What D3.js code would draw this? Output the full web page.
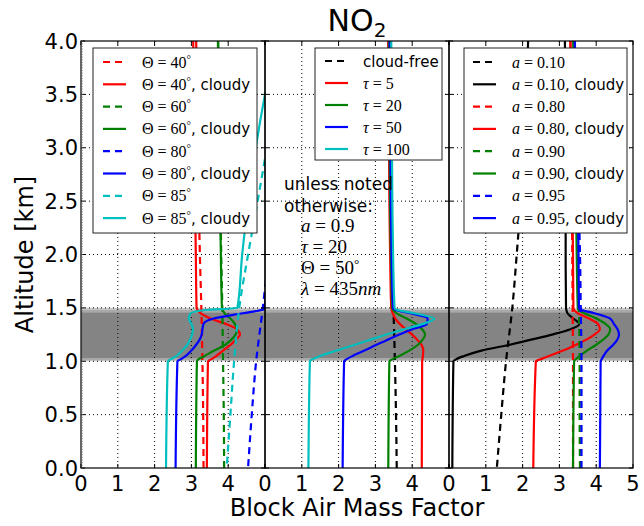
<!DOCTYPE html>
<html>
<head>
<meta charset="utf-8">
<script src="https://cdn.jsdelivr.net/npm/d3@7"></script>
<style>
  html, body { margin: 0; padding: 0; background: #fff; }
  svg { display: block; }
</style>
</head>
<body>
<svg id="chart" width="644" height="526"></svg>
<script>
// ---- data -------------------------------------------------------------
// altitude grids [km]
const cloudAlt = [0, 1.0, 1.02, 1.05, 1.1, 1.15, 1.2, 1.25, 1.3, 1.35, 1.4, 1.45, 1.48, 1.5, 2.0, 2.5, 3.0, 3.5, 4.0];
const clearAlt = [0, 0.5, 1.0, 1.5, 2.0, 2.5, 3.0, 3.5, 4.0];

// panel 1: solar zenith angle
const sza40Clear  = [3.33, 3.32, 3.30, 3.27, 3.23, 3.20, 3.17, 3.15, 3.13];
const sza40Cloudy = [3.42, 3.45, 3.55, 3.68, 3.86, 4.05, 4.20, 4.32, 4.24, 3.93, 3.52, 3.25, 3.17, 3.14, 3.12, 3.10, 3.08, 3.06, 3.05];
const sza60Clear  = [3.89, 3.88, 3.86, 3.84, 3.81, 3.79, 3.77, 3.75, 3.73];
const sza60Cloudy = [3.12, 3.15, 3.20, 3.36, 3.62, 3.90, 4.08, 4.20, 4.24, 4.18, 4.06, 3.90, 3.85, 3.83, 3.80, 3.78, 3.76, 3.74, 3.72];
const sza80Clear  = [4.54, 4.64, 4.76, 4.94, 5.10, 5.25, 5.40, 5.50, 5.60];
const sza80Cloudy = [2.57, 2.62, 2.72, 2.85, 3.00, 3.12, 3.22, 3.28, 3.30, 3.33, 3.60, 4.40, 4.90, 4.98, 5.12, 5.25, 5.35, 5.45, 5.55];
const sza85Clear  = [3.96, 4.06, 4.16, 4.30, 4.54, 4.80, 5.05, 5.30, 5.55];
const sza85Cloudy = [2.31, 2.36, 2.45, 2.60, 2.75, 2.88, 2.96, 3.02, 3.04, 3.00, 2.93, 2.98, 3.40, 4.25, 4.38, 4.55, 4.75, 5.00, 5.30];

// panel 2: cloud optical thickness
const tauClear = [3.58, 3.56, 3.53, 3.49, 3.45, 3.42, 3.40, 3.38, 3.36];
const tau5   = [4.26, 4.27, 4.28, 4.29, 4.30, 4.26, 4.14, 4.00, 3.82, 3.66, 3.54, 3.47, 3.44, 3.43, 3.40, 3.38, 3.37, 3.36, 3.35];
const tau20  = [3.35, 3.38, 3.47, 3.65, 3.92, 4.14, 4.28, 4.35, 4.27, 4.10, 3.85, 3.57, 3.48, 3.46, 3.42, 3.40, 3.39, 3.38, 3.37];
const tau50  = [2.11, 2.15, 2.22, 2.38, 2.70, 3.00, 3.32, 3.65, 4.00, 4.40, 4.42, 3.95, 3.55, 3.48, 3.44, 3.42, 3.41, 3.40, 3.39];
const tau100 = [1.18, 1.22, 1.30, 1.50, 1.95, 2.40, 2.85, 3.30, 3.78, 4.30, 4.60, 4.05, 3.60, 3.52, 3.48, 3.46, 3.45, 3.44, 3.43];

// panel 3: surface albedo
const alb10Clear  = [1.30, 1.42, 1.55, 1.72, 1.84, 1.95, 2.04, 2.10, 2.15];
const alb10Cloudy = [0.09, 0.12, 0.20, 0.42, 0.88, 1.58, 2.20, 2.80, 3.30, 3.54, 3.38, 3.22, 3.19, 3.18, 3.17, 3.17, 3.16, 3.16, 3.15];
const alb80Clear  = [3.37, 3.37, 3.37, 3.36, 3.35, 3.34, 3.32, 3.31, 3.30];
const alb80Cloudy = [2.29, 2.36, 2.50, 2.72, 3.10, 3.42, 3.72, 3.95, 4.10, 4.05, 3.80, 3.50, 3.40, 3.38, 3.37, 3.35, 3.33, 3.31, 3.30];
const alb90Clear  = [3.56, 3.55, 3.55, 3.53, 3.50, 3.47, 3.44, 3.41, 3.38];
const alb90Cloudy = [3.37, 3.40, 3.45, 3.55, 3.75, 3.98, 4.18, 4.33, 4.38, 4.25, 4.00, 3.68, 3.52, 3.50, 3.47, 3.45, 3.42, 3.40, 3.38];
const alb95Clear  = [3.60, 3.60, 3.60, 3.58, 3.56, 3.52, 3.48, 3.44, 3.42];
const alb95Cloudy = [4.10, 4.12, 4.15, 4.20, 4.30, 4.45, 4.57, 4.62, 4.58, 4.48, 4.38, 3.95, 3.60, 3.53, 3.52, 3.50, 3.48, 3.45, 3.42];

// cloud layer [km]
const cloudBottom = 1.0;
const cloudTop = 1.5;

// axis ticks
const altTicks = [0, 0.5, 1.0, 1.5, 2.0, 2.5, 3.0, 3.5, 4.0];
const altTickLabels = ["0.0", "0.5", "1.0", "1.5", "2.0", "2.5", "3.0", "3.5", "4.0"];
const amfTicks = [0, 1, 2, 3, 4, 5];
const amfTickLabels = ["0", "1", "2", "3", "4", "5"];

// ---- series definitions ----------------------------------------------
const C = { r: "#ff0000", g: "#008000", b: "#0000ff", c: "#00bfbf", k: "#000000" };

const panels = [
  {
    series: [
      { label: [["Θ"], [" = "], ["40"], ["°", "sup"]], cloudy: false, color: C.r, alt: clearAlt, v: sza40Clear },
      { label: [["Θ"], [" = "], ["40"], ["°", "sup"]], cloudy: true,  color: C.r, alt: cloudAlt, v: sza40Cloudy },
      { label: [["Θ"], [" = "], ["60"], ["°", "sup"]], cloudy: false, color: C.g, alt: clearAlt, v: sza60Clear },
      { label: [["Θ"], [" = "], ["60"], ["°", "sup"]], cloudy: true,  color: C.g, alt: cloudAlt, v: sza60Cloudy },
      { label: [["Θ"], [" = "], ["80"], ["°", "sup"]], cloudy: false, color: C.b, alt: clearAlt, v: sza80Clear },
      { label: [["Θ"], [" = "], ["80"], ["°", "sup"]], cloudy: true,  color: C.b, alt: cloudAlt, v: sza80Cloudy },
      { label: [["Θ"], [" = "], ["85"], ["°", "sup"]], cloudy: false, color: C.c, alt: clearAlt, v: sza85Clear },
      { label: [["Θ"], [" = "], ["85"], ["°", "sup"]], cloudy: true,  color: C.c, alt: cloudAlt, v: sza85Cloudy }
    ],
    legend: { x: 93, y: 48, w: 164, h: 185, handleX: 10, textX: 49, rowY: 14, step: 22.3 }
  },
  {
    series: [
      { label: [["cloud-free", "sans"]], cloudy: false, plainLabel: true, color: C.k, alt: clearAlt, v: tauClear },
      { label: [["τ", "it"], [" = "], ["5"]],   cloudy: true, plainLabel: true, color: C.r, alt: cloudAlt, v: tau5 },
      { label: [["τ", "it"], [" = "], ["20"]],  cloudy: true, plainLabel: true, color: C.g, alt: cloudAlt, v: tau20 },
      { label: [["τ", "it"], [" = "], ["50"]],  cloudy: true, plainLabel: true, color: C.b, alt: cloudAlt, v: tau50 },
      { label: [["τ", "it"], [" = "], ["100"]], cloudy: true, plainLabel: true, color: C.c, alt: cloudAlt, v: tau100 }
    ],
    legend: { x: 315, y: 48, w: 127, h: 112, handleX: 10, textX: 48, rowY: 13, step: 22 }
  },
  {
    series: [
      { label: [["a", "it"], [" = "], ["0.10"]], cloudy: false, color: C.k, alt: clearAlt, v: alb10Clear },
      { label: [["a", "it"], [" = "], ["0.10"]], cloudy: true,  color: C.k, alt: cloudAlt, v: alb10Cloudy },
      { label: [["a", "it"], [" = "], ["0.80"]], cloudy: false, color: C.r, alt: clearAlt, v: alb80Clear },
      { label: [["a", "it"], [" = "], ["0.80"]], cloudy: true,  color: C.r, alt: cloudAlt, v: alb80Cloudy },
      { label: [["a", "it"], [" = "], ["0.90"]], cloudy: false, color: C.g, alt: clearAlt, v: alb90Clear },
      { label: [["a", "it"], [" = "], ["0.90"]], cloudy: true,  color: C.g, alt: cloudAlt, v: alb90Cloudy },
      { label: [["a", "it"], [" = "], ["0.95"]], cloudy: false, color: C.b, alt: clearAlt, v: alb95Clear },
      { label: [["a", "it"], [" = "], ["0.95"]], cloudy: true,  color: C.b, alt: cloudAlt, v: alb95Cloudy }
    ],
    legend: { x: 464, y: 48, w: 163, h: 185, handleX: 9, textX: 48, rowY: 14, step: 22.3 }
  }
];

// ---- layout -----------------------------------------------------------
const plotLeft = 81, plotTop = 41, plotBottom = 468, panelW = 184;
const plotRight = plotLeft + 3 * panelW;
const svg = d3.select("#chart");
const SANS = "DejaVu Sans, sans-serif";
const SERIF = "Liberation Serif, DejaVu Serif, serif";
const LW = 2.2;
const DASH = "7,5";

const y = d3.scaleLinear().domain([0, 4]).range([plotBottom, plotTop]);
const xScales = panels.map((p, i) =>
  d3.scaleLinear().domain([0, 5]).range([plotLeft + i * panelW, plotLeft + (i + 1) * panelW]));

// cloud layer shading (spans all panels)
const band = svg.append("g");
[[cloudBottom, cloudTop, "#c6c6c6"],
 [cloudBottom + 0.012, cloudTop - 0.02, "#a9a9a9"],
 [cloudBottom + 0.03, cloudTop - 0.045, "#848484"]].forEach(([lo, hi, col]) => {
  band.append("rect")
    .attr("x", plotLeft).attr("width", plotRight - plotLeft)
    .attr("y", y(hi)).attr("height", y(lo) - y(hi))
    .attr("fill", col);
});

// grid lines
const grid = svg.append("g").attr("stroke", "#000").attr("stroke-width", 1)
  .attr("stroke-dasharray", "1,3").attr("fill", "none");
xScales.forEach(x => {
  [1, 2, 3, 4].forEach(t => {
    grid.append("line").attr("x1", x(t)).attr("x2", x(t)).attr("y1", plotTop).attr("y2", plotBottom);
  });
  altTicks.slice(1, -1).forEach(t => {
    grid.append("line").attr("x1", x(0)).attr("x2", x(5)).attr("y1", y(t)).attr("y2", y(t));
  });
});

// clip paths, one per panel
const defs = svg.append("defs");
xScales.forEach((x, i) => {
  defs.append("clipPath").attr("id", "clip" + i)
    .append("rect").attr("x", x(0)).attr("y", plotTop).attr("width", panelW).attr("height", plotBottom - plotTop);
});

// profiles
const line = x => d3.line()
  .x(d => x(d[1]))
  .y(d => y(d[0]))
  .curve(d3.curveMonotoneY);

panels.forEach((p, i) => {
  const x = xScales[i];
  const g = svg.append("g").attr("clip-path", `url(#clip${i})`);
  p.series.forEach(s => {
    const pts = s.alt.map((h, k) => [h, s.v[k]]).sort((a, b) => b[0] - a[0]);
    g.append("path")
      .attr("d", line(x)(pts))
      .attr("fill", "none")
      .attr("stroke", s.color)
      .attr("stroke-width", LW)
      .attr("stroke-dasharray", s.cloudy ? null : DASH)
      .attr("stroke-linejoin", "round");
  });
});

// axes frame, ticks
const axes = svg.append("g").attr("stroke", "#000").attr("fill", "none");
xScales.forEach((x, i) => {
  axes.append("rect").attr("x", x(0)).attr("y", plotTop).attr("width", panelW).attr("height", plotBottom - plotTop)
    .attr("stroke-width", 1.2);
  // ticks on left and right edges
  altTicks.forEach(t => {
    axes.append("line").attr("x1", x(0)).attr("x2", x(0) + 4).attr("y1", y(t)).attr("y2", y(t));
    axes.append("line").attr("x1", x(5)).attr("x2", x(5) - 4).attr("y1", y(t)).attr("y2", y(t));
  });
  amfTicks.forEach(t => {
    axes.append("line").attr("x1", x(t)).attr("x2", x(t)).attr("y1", plotBottom).attr("y2", plotBottom - 4);
    axes.append("line").attr("x1", x(t)).attr("x2", x(t)).attr("y1", plotTop).attr("y2", plotTop + 4);
  });
});
// minor ticks on the left spine
d3.range(0, 4.0001, 0.025).forEach(t => {
  axes.append("line").attr("x1", plotLeft).attr("x2", plotLeft + 2).attr("y1", y(t)).attr("y2", y(t))
    .attr("stroke", "#666").attr("stroke-width", 0.6);
});

// tick labels
const labels = svg.append("g").attr("font-family", SANS).attr("font-size", 21).attr("fill", "#000");
altTicks.forEach((t, k) => {
  labels.append("text").attr("x", plotLeft - 3).attr("y", y(t)).attr("dy", "0.36em")
    .attr("text-anchor", "end").text(altTickLabels[k]);
});
xScales.forEach((x, i) => {
  const n = i === xScales.length - 1 ? amfTicks.length : amfTicks.length - 1;
  amfTicks.slice(0, n).forEach((t, k) => {
    labels.append("text").attr("x", x(t)).attr("y", plotBottom + 23)
      .attr("text-anchor", "middle").text(amfTickLabels[k]);
  });
});

// axis titles
svg.append("text").attr("x", (plotLeft + plotRight) / 2).attr("y", 516)
  .attr("text-anchor", "middle").attr("font-family", SANS).attr("font-size", 24)
  .text("Block Air Mass Factor");
svg.append("text").attr("transform", `translate(33,${(plotTop + plotBottom) / 2}) rotate(-90)`)
  .attr("text-anchor", "middle").attr("font-family", SANS).attr("font-size", 24)
  .text("Altitude [km]");

// title
const title = svg.append("text").attr("x", (plotLeft + plotRight) / 2).attr("y", 31)
  .attr("text-anchor", "middle").attr("font-family", SANS).attr("font-size", 30);
title.append("tspan").text("NO");
title.append("tspan").attr("font-size", 20).attr("dy", 6).text("2");

// math-style label helper
function mathText(sel, parts, size) {
  parts.forEach(([t, kind]) => {
    const ts = sel.append("tspan").text(t);
    if (kind === "sans") {
      ts.attr("font-family", SANS).attr("font-size", 15);
    } else {
      ts.attr("font-family", SERIF).attr("font-size", size);
      if (kind === "it") ts.attr("font-style", "italic");
      if (kind === "sup") ts.attr("font-size", size * 0.7).attr("baseline-shift", "45%");
    }
  });
}

// legends
panels.forEach(p => {
  const L = p.legend;
  const g = svg.append("g");
  g.append("rect").attr("x", L.x).attr("y", L.y).attr("width", L.w).attr("height", L.h)
    .attr("fill", "#fff").attr("stroke", "#222").attr("stroke-width", 1);
  p.series.forEach((s, k) => {
    const cy = L.y + L.rowY + k * L.step;
    g.append("line")
      .attr("x1", L.x + L.handleX).attr("x2", L.x + L.handleX + 23)
      .attr("y1", cy).attr("y2", cy)
      .attr("stroke", s.color).attr("stroke-width", LW)
      .attr("stroke-dasharray", s.cloudy ? null : DASH);
    const t = g.append("text").attr("x", L.x + L.textX).attr("y", cy + 5.5).attr("fill", "#000");
    mathText(t, s.label, 16);
    if (s.cloudy && !s.plainLabel) {
      t.append("tspan").attr("font-family", SANS).attr("font-size", 15).text(", cloudy");
    }
  });
});

// default-parameter note in the middle panel
const note = svg.append("g").attr("fill", "#000");
note.append("text").attr("x", 284).attr("y", 190).attr("font-family", SANS).attr("font-size", 17)
  .text("unless noted");
note.append("text").attr("x", 284).attr("y", 212).attr("font-family", SANS).attr("font-size", 17)
  .text("otherwise:");
const noteLines = [
  [["a", "it"], [" = "], ["0.9"]],
  [["τ", "it"], [" = "], ["20"]],
  [["Θ"], [" = "], ["50"], ["°", "sup"]],
  [["λ", "it"], [" = "], ["435"], ["nm", "it"]]
];
noteLines.forEach((parts, k) => {
  const t = note.append("text").attr("x", 301).attr("y", 232 + k * 21);
  mathText(t, parts, 19);
});
</script>
</body>
</html>
